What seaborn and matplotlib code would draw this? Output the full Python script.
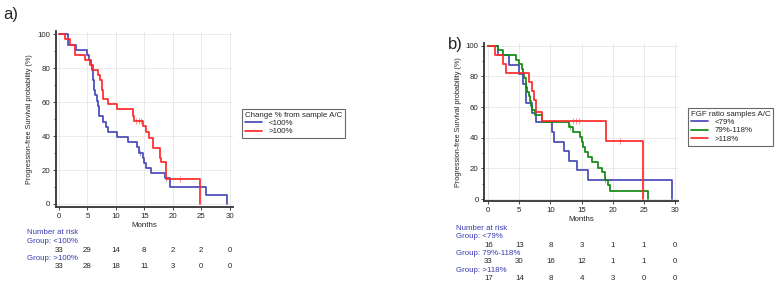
import numpy as np
import pandas as pd
import seaborn as sns
import matplotlib.pyplot as plt
from matplotlib.transforms import blended_transform_factory

sns.set_style('ticks')
plt.rcParams['font.family'] = ['Liberation Sans', 'DejaVu Sans']

# panel a : change % from sample A/C
a_lo_t = [0, 1.6, 3.0, 4.9, 5.3, 5.6, 5.8, 5.9, 6.0, 6.1, 6.2, 6.4, 6.6, 6.8, 7.0, 7.8, 8.2, 8.7,
          10.2, 12.2, 13.7, 14.0, 14.8, 15.0, 15.3, 16.2, 18.7, 19.5, 25.9, 29.6]
a_lo_s = [100, 94, 91, 88, 85, 82, 79, 76, 73, 70, 67, 64, 61, 58, 52, 48.5, 45.5, 42.4,
          39.4, 36.4, 33.3, 30.3, 27.3, 24.2, 21.2, 18.2, 15.2, 10, 5, 0]
a_hi_t = [0, 1.1, 1.9, 2.8, 4.6, 5.5, 6.0, 6.9, 7.2, 7.5, 7.8, 8.6, 10.2, 13.0, 13.2, 14.8,
          15.3, 15.9, 16.5, 17.8, 18.0, 18.9, 24.8]
a_hi_s = [100, 97, 94, 88, 85, 82, 79, 76, 73, 67, 62, 59, 56, 52, 49, 46,
          42.5, 39, 33, 27, 24.5, 15, 0]
a_lo_cens = [14.2, 18.8]
a_hi_cens = [13.6, 14.1, 14.5, 21.3]
a_groups = ['<100%', '>100%']
a_risk = [[33, 29, 14, 8, 2, 2, 0],
          [33, 28, 18, 11, 3, 0, 0]]

# panel b : FGF ratio samples A/C
b_lo_t = [0, 1.5, 3.4, 4.9, 5.6, 6.0, 7.0, 7.7, 10.3, 10.5, 12.1, 13.0, 14.2, 16.1, 29.6]
b_lo_s = [100, 93.75, 87.5, 81.25, 75, 62.5, 56.25, 50, 43.75, 37.5, 31.25, 25, 18.75, 12.5, 0]
b_mid_t = [0, 1.6, 2.4, 4.5, 5.0, 5.4, 5.6, 5.8, 6.0, 6.1, 6.3, 6.5, 6.7, 6.9, 7.0, 7.5, 8.6,
           12.9, 13.7, 14.7, 15.0, 15.3, 15.5, 16.1, 16.6, 17.7, 18.3, 18.8, 19.2, 19.6, 25.7]
b_mid_s = [100, 97, 94, 91, 88, 85, 82, 79, 76, 73, 70, 67, 64, 61, 58, 55, 50,
           47, 44, 40.6, 37, 34, 30.9, 27.6, 24.3, 20.5, 17.5, 12.5, 9.1, 5.4, 0]
b_hi_t = [0, 1.0, 2.3, 2.8, 6.6, 7.1, 7.3, 7.6, 8.6, 18.9, 24.8]
b_hi_s = [100, 94.1, 88.2, 82.4, 76.5, 70.6, 64.7, 57, 51, 38, 0]
b_lo_cens = [18.8]
b_mid_cens = [13.2]
b_hi_cens = [13.7, 14.1, 14.6, 21.2]
b_groups = ['<79%', '79%-118%', '>118%']
b_risk = [[16, 13, 8, 3, 1, 1, 0],
          [33, 30, 16, 12, 1, 1, 0],
          [17, 14, 8, 4, 3, 0, 0]]

risk_months = [0, 5, 10, 15, 20, 25, 30]

BLUE = '#4a4ab8'
RED = '#ff2a2a'
GREEN = '#138a13'
LBL = '#3b3bb0'
FS = 5.7

fig = plt.figure(figsize=(7.76, 2.85), dpi=100)
ax_a = fig.add_axes([0.0718, 0.2737, 0.2285, 0.6175])
ax_b = fig.add_axes([0.6241, 0.2947, 0.2496, 0.5555])


def km(ax, t, s, cens, color, label):
    df = pd.DataFrame({'t': t, 's': s})
    sns.lineplot(data=df, x='t', y='s', drawstyle='steps-post', estimator=None, sort=False,
                 color=color, lw=1.25, ax=ax, label=label)
    idx = np.searchsorted(t, cens, side='right') - 1
    ax.plot(cens, np.array(s)[idx], linestyle='none', marker='|', ms=4, mew=0.6,
            color=color, alpha=0.6)


def style(ax, xlim, ylim):
    ax.set_xlim(*xlim)
    ax.set_ylim(*ylim)
    ax.set_xticks(risk_months)
    ax.set_yticks(range(0, 101, 20))
    ax.set_yticks(range(0, 101, 10), minor=True)
    ax.grid(True, which='major', color='#e6e6e6', lw=0.6)
    ax.set_axisbelow(True)
    for sp in ['top', 'right']:
        ax.spines[sp].set_visible(False)
    for sp in ['left', 'bottom']:
        ax.spines[sp].set_linewidth(1.3)
        ax.spines[sp].set_color('#333333')
    ax.tick_params(labelsize=FS, length=2.5, width=0.6, pad=1.5)
    ax.tick_params(which='minor', length=1.5, width=0.5)
    ax.set_xlabel('Months', fontsize=FS, labelpad=2)
    ax.set_ylabel('Progression-free Survival probability (%)', fontsize=FS - 0.5, labelpad=3)


# panel a
km(ax_a, a_lo_t, a_lo_s, a_lo_cens, BLUE, a_groups[0])
km(ax_a, a_hi_t, a_hi_s, a_hi_cens, RED, a_groups[1])
style(ax_a, (-0.58, 30.6), (-1.8, 102))
ax_a.legend(title='Change % from sample A/C', loc='upper left', bbox_to_anchor=(238 / 776, 1 - 105 / 285),
            bbox_transform=fig.transFigure, fontsize=FS, title_fontsize=FS, frameon=True, fancybox=False,
            edgecolor='#444444', handlelength=2.2, borderpad=0.35, labelspacing=0.1,
            alignment='left').get_frame().set_linewidth(0.8)

# panel b
km(ax_b, b_lo_t, b_lo_s, b_lo_cens, BLUE, b_groups[0])
km(ax_b, b_mid_t, b_mid_s, b_mid_cens, GREEN, b_groups[1])
km(ax_b, b_hi_t, b_hi_s, b_hi_cens, RED, b_groups[2])
style(ax_b, (-0.64, 30.5), (-1.3, 102))
ax_b.legend(title='FGF ratio samples A/C', loc='upper left', bbox_to_anchor=(684 / 776, 1 - 104 / 285),
            bbox_transform=fig.transFigure, fontsize=FS, title_fontsize=FS, frameon=True, fancybox=False,
            edgecolor='#444444', handlelength=2.2, borderpad=0.35, labelspacing=0.1,
            alignment='left').get_frame().set_linewidth(0.8)

fig.text(3 / 776, 1 - 15 / 285, 'a)', fontsize=12, va='center', ha='left')
fig.text(448 / 776, 1 - 44 / 285, 'b)', fontsize=12, va='center', ha='left')


def risk_table(ax, x0, y0, groups, rows, dy):
    tr = blended_transform_factory(ax.transData, fig.transFigure)
    fig.text(x0 / 776, 1 - y0 / 285, 'Number at risk', fontsize=FS, color=LBL, va='center')
    y = y0
    for g, row in zip(groups, rows):
        y += dy
        fig.text(x0 / 776, 1 - y / 285, 'Group: ' + g, fontsize=FS, color=LBL, va='center')
        y += dy
        for m, n in zip(risk_months, row):
            ax.text(m, 1 - y / 285, str(n), transform=tr, fontsize=FS, ha='center', va='center')


risk_table(ax_a, 27, 233, a_groups, a_risk, 8.5)
risk_table(ax_b, 456, 228.5, b_groups, b_risk, 8.3)

fig.savefig('out.png', dpi=100)
